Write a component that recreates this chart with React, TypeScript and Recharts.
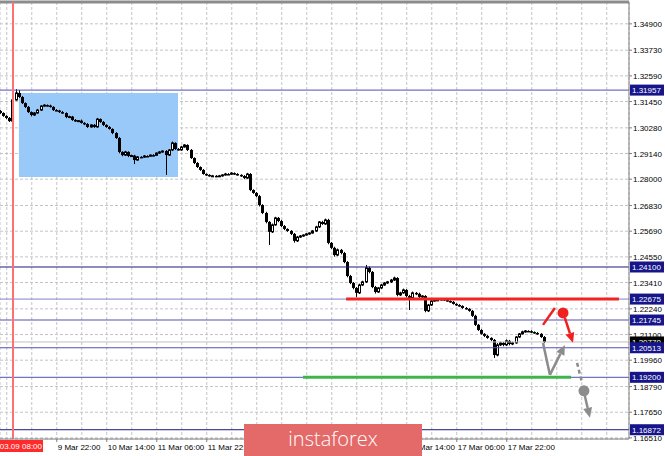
import {
  ComposedChart,
  Bar,
  XAxis,
  YAxis,
  CartesianGrid,
  ReferenceLine,
  ReferenceArea,
  ReferenceDot,
} from "recharts";

// H1 closes, first bar is index -4 (bar 0 = 2021.03.09 08:00)
const FIRST_INDEX = -4;
const FIRST_OPEN = 1.3103;
const PIP = 0.0001;

const CLOSE = [
  1.3094, 1.3081, 1.3072, 1.3058,
  1.3152, 1.3183, 1.3165, 1.3138, 1.3121, 1.3098, 1.3085, 1.3094, 1.3107, 1.3125,
  1.3129, 1.3127, 1.3121, 1.3107, 1.3105, 1.3098, 1.3094, 1.3076, 1.3078, 1.3063,
  1.3058, 1.306, 1.305, 1.3045, 1.3032, 1.3041, 1.3032, 1.3067, 1.3054, 1.3041,
  1.3032, 1.3023, 1.3005, 1.2983, 1.2921, 1.2907, 1.2921, 1.2903, 1.2905, 1.2885,
  1.2899, 1.2898, 1.2903, 1.2902, 1.2907, 1.2906, 1.2916, 1.2921, 1.2925, 1.2907,
  1.293, 1.2961, 1.2934, 1.293, 1.2943, 1.2952, 1.293, 1.2894, 1.2872, 1.2854,
  1.2841, 1.2823, 1.2819, 1.2814, 1.2815, 1.2813, 1.2815, 1.2819, 1.2823, 1.2822,
  1.2827, 1.2823, 1.2819, 1.2814, 1.2805, 1.2823, 1.2752, 1.2739, 1.2725, 1.2685,
  1.265, 1.261, 1.2566, 1.2597, 1.2628, 1.2614, 1.2592, 1.2579, 1.257, 1.2557,
  1.2526, 1.2543, 1.2548, 1.2552, 1.2557, 1.2561, 1.257, 1.2588, 1.261, 1.2601,
  1.2619, 1.2517, 1.2495, 1.2463, 1.2486, 1.2472, 1.2432, 1.237, 1.2339, 1.2317,
  1.2295, 1.233, 1.2344, 1.2406, 1.2388, 1.2321, 1.2299, 1.2317, 1.233, 1.2339,
  1.2344, 1.2352, 1.2361, 1.2286, 1.2295, 1.2308, 1.2281, 1.2273, 1.2295, 1.2291,
  1.2277, 1.2281, 1.2215, 1.2241, 1.2259, 1.2263, 1.2264, 1.2268, 1.2263, 1.2259,
  1.2255, 1.2246, 1.2241, 1.2237, 1.2228, 1.2224, 1.2215, 1.2193, 1.2153, 1.213,
  1.2113, 1.2104, 1.2095, 1.2086, 1.2019, 1.2064, 1.2073, 1.2064, 1.2082, 1.2068,
  1.2073, 1.2099, 1.2113, 1.2122, 1.2126, 1.2125, 1.2121, 1.2117, 1.2113, 1.2099, 1.2077,
];

// wick lengths beyond the body, in pips
const UP_WICK = [
  4, 3, 3, 4,
  3, 17, 13, 4, 3, 4, 3, 4, 5, 3,
  4, 3, 4, 3, 4, 3, 5, 3, 4, 3,
  4, 3, 5, 3, 4, 3, 4, 5, 3, 4,
  3, 4, 3, 4, 4, 3, 5, 3, 4, 3,
  4, 3, 4, 3, 3, 4, 3, 4, 3, 4,
  4, 6, 3, 4, 5, 4, 3, 4, 3, 4,
  3, 4, 3, 3, 4, 3, 4, 3, 5, 4,
  4, 3, 4, 3, 4, 5, 4, 3, 4, 5,
  4, 5, 4, 6, 5, 4, 5, 4, 3, 4,
  4, 5, 4, 3, 4, 3, 4, 5, 4, 5,
  6, 5, 4, 5, 6, 4, 5, 4, 5, 4,
  4, 6, 5, 13, 6, 4, 5, 4, 5, 4,
  4, 5, 6, 4, 5, 6, 4, 5, 6, 4,
  5, 4, 4, 5, 4, 3, 4, 3, 4, 3,
  3, 4, 3, 4, 3, 4, 3, 4, 5, 4,
  4, 3, 4, 3, 4, 8, 5, 4, 6, 4,
  5, 4, 4, 5, 4, 3, 4, 3, 4, 3, 4,
];

const DN_WICK = [
  4, 4, 5, 4,
  5, 3, 4, 4, 5, 4, 6, 4, 3, 4,
  3, 4, 3, 4, 3, 4, 3, 5, 3, 4,
  3, 4, 3, 5, 4, 3, 4, 3, 4, 5,
  4, 3, 5, 4, 6, 5, 4, 5, 4, 18,
  3, 4, 3, 4, 3, 4, 3, 4, 3, 88,
  4, 5, 4, 3, 4, 3, 5, 4, 5, 4,
  4, 3, 4, 3, 3, 4, 3, 4, 3, 4,
  3, 4, 3, 4, 5, 4, 5, 4, 5, 6,
  5, 6, 58, 5, 4, 5, 4, 5, 4, 5,
  8, 5, 4, 4, 3, 4, 3, 4, 5, 4,
  4, 6, 5, 7, 5, 6, 5, 6, 5, 6,
  18, 5, 4, 5, 6, 5, 7, 4, 5, 4,
  4, 5, 4, 6, 5, 4, 6, 54, 5, 6,
  5, 6, 6, 5, 4, 3, 4, 3, 4, 3,
  4, 3, 4, 3, 4, 3, 4, 5, 5, 4,
  4, 5, 4, 5, 13, 6, 5, 6, 5, 6,
  5, 4, 4, 3, 4, 3, 4, 3, 4, 4, 5,
];

const PRICE_TICKS = [
  1.1651, 1.1765, 1.1879, 1.1996, 1.211, 1.2224, 1.2341, 1.2455, 1.2569,
  1.2683, 1.28, 1.2914, 1.3028, 1.3145, 1.3259, 1.3373, 1.349,
];
const Y_MIN = 1.1646;
const Y_MAX = 1.3587;

const X_TICKS = [14, 30, 46, 62, 78, 94, 110, 126, 142, 158];
const X_LABELS = [
  "9 Mar 22:00",
  "10 Mar 14:00",
  "11 Mar 06:00",
  "11 Mar 22:00",
  "12 Mar 14:00",
  "15 Mar 06:00",
  "15 Mar 22:00",
  "16 Mar 14:00",
  "17 Mar 06:00",
  "17 Mar 22:00",
];
const GRID_X = [
  -2, 6, 14, 22, 30, 38, 46, 54, 62, 70, 78, 86, 94, 102, 110, 118, 126, 134,
  142, 150, 158, 166, 174, 182, 190,
];
const X_MIN = -4.16;
const X_MAX = 197.12;

const LEVELS = [1.31957, 1.241, 1.22675, 1.21745, 1.20513, 1.192, 1.16872];
const LAST_PRICE = 1.2077;
const CURSOR_BAR = 0;
const CURSOR_LABEL = "2021.03.09 08:00";

const BOX = { x1: 1.9, x2: 52.8, y1: 1.281, y2: 1.3183 };
const RESISTANCE = { from: 106.6, to: 193.9, price: 1.22675 };
const SUPPORT = { from: 92.8, to: 178.6, price: 1.192 };

const RED_TICK = [
  { x: 169.6, y: 1.2153 },
  { x: 173.4, y: 1.2228 },
];
const RED_DOT = { x: 176, y: 1.2206 };
const RED_ARROW = [
  { x: 176.6, y: 1.2184 },
  { x: 179.2, y: 1.2073 },
];
const GRAY_DROP = [
  { x: 169.6, y: 1.2073 },
  { x: 171.8, y: 1.1931 },
];
const GRAY_BOUNCE = [
  { x: 171.8, y: 1.1931 },
  { x: 176.6, y: 1.2064 },
];
const GRAY_DASH = [
  { x: 180.5, y: 1.1984 },
  { x: 182.1, y: 1.1895 },
];
const GRAY_DOT = { x: 182.7, y: 1.186 };
const GRAY_ARROW = [
  { x: 183, y: 1.1837 },
  { x: 184.6, y: 1.174 },
];

const FONT = "'Liberation Sans', Arial, sans-serif";
const NAVY = "#16168a";

const candles = CLOSE.map((c, k) => {
  const o = k === 0 ? FIRST_OPEN : CLOSE[k - 1];
  const h = Math.max(o, c) + UP_WICK[k] * PIP;
  const l = Math.min(o, c) - DN_WICK[k] * PIP;
  return { i: FIRST_INDEX + k, o, c, h, l, range: [l, h] };
});

const Candle = (props: any) => {
  const { x, y, width, height, payload } = props;
  if (x == null || y == null) return null;
  const { o, c, h, l } = payload;
  const top = Math.min(y, y + height);
  const span = Math.abs(height);
  const py = (p: number) => top + ((h - p) / (h - l || 1)) * span;
  const cx = Math.floor(x + width / 2) + 0.5;
  const bTop = py(Math.max(o, c));
  const bBot = py(Math.min(o, c));
  const bull = c > o;
  return (
    <g>
      <line x1={cx} x2={cx} y1={top} y2={top + span} stroke="#000" strokeWidth={1} />
      {bull ? (
        <rect
          x={cx - 1}
          y={bTop}
          width={2}
          height={Math.max(1, bBot - bTop)}
          fill="#fff"
          stroke="#000"
          strokeWidth={1}
        />
      ) : (
        <rect x={cx - 1.5} y={bTop} width={3} height={Math.max(1.5, bBot - bTop)} fill="#000" />
      )}
    </g>
  );
};

const Arrow = (props: any) => {
  const { x1, y1, x2, y2, stroke, strokeWidth } = props;
  const dx = x2 - x1;
  const dy = y2 - y1;
  const len = Math.sqrt(dx * dx + dy * dy) || 1;
  const ux = dx / len;
  const uy = dy / len;
  const head = 10;
  const half = 4.5;
  const bx = x2 - ux * head;
  const by = y2 - uy * head;
  const pts = `${x2},${y2} ${bx - uy * half},${by + ux * half} ${bx + uy * half},${by - ux * half}`;
  return (
    <g>
      <line x1={x1} y1={y1} x2={bx} y2={by} stroke={stroke} strokeWidth={strokeWidth} />
      <polygon points={pts} fill={stroke} />
    </g>
  );
};

const tag = (text: string, bg: string) => (p: any) => {
  const vb = p.viewBox || {};
  const x = (vb.x || 0) + (vb.width || 0) + 1;
  const y = vb.y || 0;
  return (
    <g>
      <rect x={x} y={y - 5.5} width={34} height={11} fill={bg} />
      <text x={x + 2} y={y + 3} fontSize={8} fontFamily={FONT} fill="#fff">
        {text}
      </text>
    </g>
  );
};

const cursorTag = (p: any) => {
  const vb = p.viewBox || {};
  const x = vb.x || 0;
  const y = (vb.y || 0) + (vb.height || 0) + 1;
  return (
    <g>
      <rect x={x - 48} y={y} width={78} height={12} fill="#ff2a2a" />
      <text x={x + 29} y={y + 9} fontSize={8} fontFamily={FONT} fill="#fff" textAnchor="end">
        {CURSOR_LABEL}
      </text>
    </g>
  );
};

const XTick = (props: any) => {
  const { x, y, payload } = props;
  const idx = X_TICKS.indexOf(payload.value);
  return (
    <text x={x + 1} y={y + 8} fontSize={8} fontFamily={FONT} fill="#000">
      {X_LABELS[idx]}
    </text>
  );
};

const YTick = (props: any) => {
  const { x, y, payload } = props;
  return (
    <text x={x} y={y + 3} fontSize={8} fontFamily={FONT} fill="#000">
      {payload.value.toFixed(5)}
    </text>
  );
};

const levelStroke = (v: number) =>
  v === 1.241 || v === 1.16872 ? "#1a1a80" : v === 1.22675 ? "#8080cc" : "#5050b4";

const App = () => {
  return (
    <div style={{ position: "absolute", left: 0, top: 0, width: 665, height: 456, background: "#fff" }}>
      <ComposedChart
        width={665}
        height={456}
        data={candles}
        margin={{ top: 2, right: 0, bottom: 0, left: 0 }}
      >
        <XAxis
          dataKey="i"
          type="number"
          domain={[X_MIN, X_MAX]}
          allowDataOverflow
          ticks={X_TICKS}
          interval={0}
          height={17}
          tickSize={3}
          tickMargin={0}
          stroke="#808080"
          tick={<XTick />}
        />
        <XAxis
          xAxisId="grid"
          dataKey="i"
          type="number"
          domain={[X_MIN, X_MAX]}
          allowDataOverflow
          ticks={GRID_X}
          interval={0}
          hide
        />
        <YAxis
          orientation="right"
          type="number"
          domain={[Y_MIN, Y_MAX]}
          allowDataOverflow
          ticks={PRICE_TICKS}
          interval={0}
          width={36}
          tickSize={3}
          tickMargin={1}
          stroke="#808080"
          tick={<YTick />}
        />
        <CartesianGrid xAxisId="grid" stroke="#c4c4c4" strokeDasharray="3 2" />
        <ReferenceArea
          x1={BOX.x1}
          x2={BOX.x2}
          y1={BOX.y1}
          y2={BOX.y2}
          fill="#99c9f8"
          fillOpacity={1}
          stroke="none"
        />
        <ReferenceLine y={Y_MAX} stroke="#8c8c8c" strokeWidth={3} />
        <ReferenceLine y={LAST_PRICE} stroke="#c0c0c0" label={tag(LAST_PRICE.toFixed(5), "#000")} />
        {LEVELS.map((v) => (
          <ReferenceLine
            key={v}
            y={v}
            stroke={levelStroke(v)}
            strokeWidth={1}
            label={tag(v.toFixed(5), NAVY)}
          />
        ))}
        <ReferenceLine x={CURSOR_BAR} stroke="#ff7070" strokeWidth={2} label={cursorTag} />
        <Bar dataKey="range" barSize={3} shape={<Candle />} isAnimationActive={false} />
        <ReferenceLine
          segment={[
            { x: RESISTANCE.from, y: RESISTANCE.price },
            { x: RESISTANCE.to, y: RESISTANCE.price },
          ]}
          stroke="#f52222"
          strokeWidth={3}
        />
        <ReferenceLine
          segment={[
            { x: SUPPORT.from, y: SUPPORT.price },
            { x: SUPPORT.to, y: SUPPORT.price },
          ]}
          stroke="#3cb54a"
          strokeWidth={3}
        />
        <ReferenceLine segment={RED_TICK} stroke="#f02020" strokeWidth={2.5} />
        <ReferenceDot x={RED_DOT.x} y={RED_DOT.y} r={5.5} fill="#f02020" stroke="none" />
        <ReferenceLine segment={RED_ARROW} stroke="#f02020" strokeWidth={2.5} shape={<Arrow />} />
        <ReferenceLine segment={GRAY_DROP} stroke="#8c8c8c" strokeWidth={2.5} />
        <ReferenceLine segment={GRAY_BOUNCE} stroke="#8c8c8c" strokeWidth={2.5} shape={<Arrow />} />
        <ReferenceLine segment={GRAY_DASH} stroke="#8c8c8c" strokeWidth={2.5} strokeDasharray="4 3" />
        <ReferenceDot x={GRAY_DOT.x} y={GRAY_DOT.y} r={5.5} fill="#8c8c8c" stroke="none" />
        <ReferenceLine segment={GRAY_ARROW} stroke="#8c8c8c" strokeWidth={2.5} shape={<Arrow />} />
      </ComposedChart>
      <div
        style={{
          position: "absolute",
          left: 244,
          top: 424,
          width: 178,
          height: 32,
          background: "#e46a6a",
          color: "#fff",
          fontFamily: "'Open Sans', sans-serif",
          fontWeight: 300,
          fontSize: 20,
          lineHeight: "30px",
          textAlign: "center",
        }}
      >
        instaforex
      </div>
    </div>
  );
};

export default App;
